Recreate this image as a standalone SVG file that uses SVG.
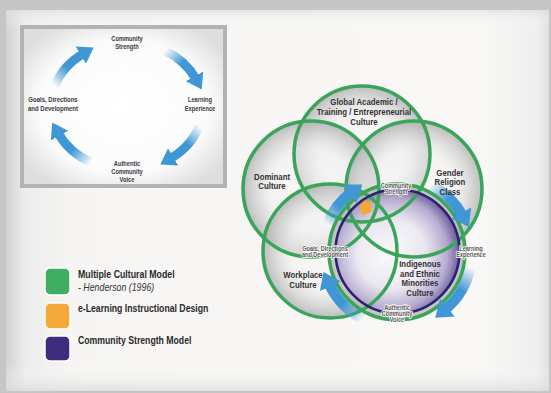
<svg xmlns="http://www.w3.org/2000/svg" width="551" height="393" viewBox="0 0 551 393">
<defs>
<style>
.lbl{font-family:"Liberation Sans",Arial,sans-serif;font-weight:bold;fill:#333;text-anchor:middle}
.big{font-size:9.2px}
.ins{font-size:7px;fill:#3a3a3a}
.sm{font-size:6.3px;fill:#555;stroke:#fff;stroke-width:1.6px;paint-order:stroke;stroke-linejoin:round}
.leg{font-family:"Liberation Sans",Arial,sans-serif;font-weight:bold;font-size:10px;fill:#2a2a2a}
.legi{font-family:"Liberation Sans",Arial,sans-serif;font-style:italic;font-size:10px;fill:#333}
.ring{fill:none;stroke:#3aa55a;stroke-width:3.5}
.cf{fill:url(#cfill)}
.arr{fill:none;stroke-width:9}
.arrm{fill:none;stroke-width:10.5}
</style>
<linearGradient id="panel" x1="0" y1="0" x2="1" y2="0">
<stop offset="0" stop-color="#d2d2d2"/>
<stop offset="0.035" stop-color="#ececec"/>
<stop offset="0.12" stop-color="#f6f5f3"/>
<stop offset="0.88" stop-color="#f9f8f6"/>
<stop offset="0.98" stop-color="#eeeeee"/>
<stop offset="1" stop-color="#dedede"/>
</linearGradient>
<linearGradient id="panelv" x1="0" y1="0" x2="0" y2="1">
<stop offset="0" stop-color="#dcdcdc" stop-opacity="0.6"/>
<stop offset="0.05" stop-color="#ffffff" stop-opacity="0"/>
<stop offset="0.93" stop-color="#ffffff" stop-opacity="0"/>
<stop offset="1" stop-color="#d8d8d8" stop-opacity="0.7"/>
</linearGradient>
<radialGradient id="inset" cx="0.5" cy="0.5" r="0.6">
<stop offset="0" stop-color="#ffffff"/>
<stop offset="0.7" stop-color="#fbfbfb"/>
<stop offset="1" stop-color="#dedede"/>
</radialGradient>
<radialGradient id="cfill" cx="0.5" cy="0.5" r="0.5">
<stop offset="0" stop-color="#ffffff" stop-opacity="0.3"/>
<stop offset="0.6" stop-color="#eeeeee" stop-opacity="0.5"/>
<stop offset="1" stop-color="#adadad" stop-opacity="0.78"/>
</radialGradient>
<radialGradient id="pfill" cx="0.45" cy="0.52" r="0.55">
<stop offset="0" stop-color="#ffffff" stop-opacity="0.85"/>
<stop offset="0.5" stop-color="#ebe8f2" stop-opacity="0.85"/>
<stop offset="0.82" stop-color="#b0a5cd" stop-opacity="0.9"/>
<stop offset="1" stop-color="#65579a" stop-opacity="0.95"/>
</radialGradient>
<marker id="head" markerUnits="userSpaceOnUse" markerWidth="15" markerHeight="20" viewBox="0 0 15 20" refX="3" refY="10" orient="auto">
<path d="M0,0 L15,10 L0,20 Z" fill="#3f98d5"/>
</marker>
<marker id="headm" markerUnits="userSpaceOnUse" markerWidth="16" markerHeight="23" viewBox="0 0 16 23" refX="3" refY="11.5" orient="auto">
<path d="M0,0 L16,11.5 L0,23 Z" fill="#3f98d5"/>
</marker>
<linearGradient id="g1" gradientUnits="userSpaceOnUse" x1="165" y1="50.6" x2="195.9" y2="79"><stop offset="0" stop-color="#3f98d5" stop-opacity="0"/><stop offset="0.5" stop-color="#3f98d5"/></linearGradient>
<linearGradient id="g2" gradientUnits="userSpaceOnUse" x1="199.3" y1="125.8" x2="170.6" y2="158.4"><stop offset="0" stop-color="#3f98d5" stop-opacity="0"/><stop offset="0.5" stop-color="#3f98d5"/></linearGradient>
<linearGradient id="g3" gradientUnits="userSpaceOnUse" x1="91.3" y1="162.5" x2="58.1" y2="133"><stop offset="0" stop-color="#3f98d5" stop-opacity="0"/><stop offset="0.5" stop-color="#3f98d5"/></linearGradient>
<linearGradient id="g4" gradientUnits="userSpaceOnUse" x1="54.7" y1="86.2" x2="83.4" y2="53.6"><stop offset="0" stop-color="#3f98d5" stop-opacity="0"/><stop offset="0.5" stop-color="#3f98d5"/></linearGradient>
<linearGradient id="m1" gradientUnits="userSpaceOnUse" x1="327" y1="224" x2="351.9" y2="192.1"><stop offset="0" stop-color="#3f98d5" stop-opacity="0"/><stop offset="0.5" stop-color="#3f98d5"/></linearGradient>
<linearGradient id="m2" gradientUnits="userSpaceOnUse" x1="431" y1="185" x2="462.6" y2="215.6"><stop offset="0" stop-color="#3f98d5" stop-opacity="0"/><stop offset="0.5" stop-color="#3f98d5"/></linearGradient>
<linearGradient id="m3" gradientUnits="userSpaceOnUse" x1="470.5" y1="267" x2="445.2" y2="309.5"><stop offset="0" stop-color="#3f98d5" stop-opacity="0"/><stop offset="0.5" stop-color="#3f98d5"/></linearGradient>
<linearGradient id="m4" gradientUnits="userSpaceOnUse" x1="363" y1="319" x2="329" y2="283.7"><stop offset="0" stop-color="#3f98d5" stop-opacity="0"/><stop offset="0.5" stop-color="#3f98d5"/></linearGradient>
</defs>

<!-- background frame -->
<rect x="0" y="0" width="551" height="393" fill="#c6c6c6"/>
<rect x="6" y="10" width="543" height="381" fill="url(#panel)"/>
<rect x="6" y="10" width="543" height="381" fill="url(#panelv)"/>

<!-- inset cycle -->
<g id="inset">
<rect x="22" y="27" width="203" height="159" fill="url(#inset)" stroke="#b3b3b3" stroke-width="4"/>
<g id="inset-arrows">
<path class="arr" d="M165,50.6 A76,64 0 0 1 195.9,79" stroke="url(#g1)" marker-end="url(#head)"/>
<path class="arr" d="M199.3,125.8 A76,64 0 0 1 170.6,158.4" stroke="url(#g2)" marker-end="url(#head)"/>
<path class="arr" d="M91.3,162.5 A76,64 0 0 1 58.1,133" stroke="url(#g3)" marker-end="url(#head)"/>
<path class="arr" d="M54.7,86.2 A76,64 0 0 1 83.4,53.6" stroke="url(#g4)" marker-end="url(#head)"/>
</g>
<g id="inset-cs" transform="translate(127,0) scale(0.82,1)"><text class="lbl ins" x="0" y="41">Community</text><text class="lbl ins" x="0" y="49">Strength</text></g>
<g id="inset-le" transform="translate(200,0) scale(0.82,1)"><text class="lbl ins" x="0" y="102.5">Learning</text><text class="lbl ins" x="0" y="111">Experience</text></g>
<g id="inset-acv" transform="translate(127,0) scale(0.82,1)"><text class="lbl ins" x="0" y="166">Authentic</text><text class="lbl ins" x="0" y="174">Community</text><text class="lbl ins" x="0" y="182">Voice</text></g>
<g id="inset-gdd" transform="translate(53,0) scale(0.86,1)"><text class="lbl ins" x="0" y="102.5">Goals, Directions</text><text class="lbl ins" x="0" y="111">and Development</text></g>
</g>

<!-- venn circles -->
<g id="venn">
<g id="fills">
<circle class="cf" cx="362" cy="154" r="68"/>
<circle class="cf" cx="311" cy="189" r="68"/>
<circle class="cf" cx="414" cy="189" r="68"/>
<circle class="cf" cx="330" cy="251" r="67"/>
<circle class="cf" cx="397" cy="252" r="68"/>
</g>
<circle id="csm-fill" cx="397.5" cy="251.5" r="62" fill="url(#pfill)"/>
<g id="global"><circle class="ring" cx="362" cy="154" r="68"/></g>
<g id="dominant"><circle class="ring" cx="311" cy="189" r="68"/></g>
<g id="gender"><circle class="ring" cx="414" cy="189" r="68"/></g>
<g id="workplace"><circle class="ring" cx="330" cy="251" r="67"/></g>
<g id="indigenous"><circle class="ring" cx="397" cy="252" r="68"/></g>
<g id="csm"><circle cx="397.5" cy="251.5" r="62" fill="none" stroke="#2b2270" stroke-width="2.6"/></g>
<g id="elearning"><path d="M359.3,207.3 L364,200.8 L371,202 L371.5,211.5 L362.7,215.5 Z" fill="#f5a531"/></g>
</g>

<!-- cycle arrows -->
<g id="connectors">
<path class="arrm" d="M327,224 A75,75 0 0 1 351.9,192.1" stroke="url(#m1)" marker-end="url(#headm)"/>
<path class="arrm" d="M431,185 A75,75 0 0 1 462.6,215.6" stroke="url(#m2)" marker-end="url(#headm)"/>
<path class="arrm" d="M470.5,267 A75,75 0 0 1 445.2,309.5" stroke="url(#m3)" marker-end="url(#headm)"/>
<path class="arrm" d="M363,319 A75,75 0 0 1 329,283.7" stroke="url(#m4)" marker-end="url(#headm)"/>
</g>

<!-- venn labels -->
<g id="lbl-global" transform="translate(364,0) scale(0.85,1)"><text class="lbl big" x="0" y="105.5">Global Academic /</text><text class="lbl big" x="0" y="115.5">Training / Entrepreneurial</text><text class="lbl big" x="0" y="125">Culture</text></g>
<g id="lbl-dominant" transform="translate(272,0) scale(0.85,1)"><text class="lbl big" x="0" y="180">Dominant</text><text class="lbl big" x="0" y="189.5">Culture</text></g>
<g id="lbl-gender" transform="translate(450,0) scale(0.85,1)"><text class="lbl big" x="0" y="176">Gender</text><text class="lbl big" x="0" y="185.5">Religion</text><text class="lbl big" x="0" y="195">Class</text></g>
<g id="lbl-workplace" transform="translate(303,0) scale(0.85,1)"><text class="lbl big" x="0" y="278.5">Workplace</text><text class="lbl big" x="0" y="288">Culture</text></g>
<g id="lbl-indigenous" transform="translate(420,0) scale(0.85,1)"><text class="lbl big" x="0" y="267.5">Indigenous</text><text class="lbl big" x="0" y="277">and Ethnic</text><text class="lbl big" x="0" y="286.5">Minorities</text><text class="lbl big" x="0" y="296">Culture</text></g>
<g id="lbl-cs" transform="translate(396,0) scale(0.88,1)"><text class="lbl sm" x="0" y="188.5">Community</text><text class="lbl sm" x="0" y="194.5">Strength</text></g>
<g id="lbl-gdd" transform="translate(325,0) scale(0.88,1)"><text class="lbl sm" x="0" y="251.5">Goals, Directions</text><text class="lbl sm" x="0" y="257.5">and Development</text></g>
<g id="lbl-le" transform="translate(471,0) scale(0.88,1)"><text class="lbl sm" x="0" y="251.5">Learning</text><text class="lbl sm" x="0" y="257.5">Experience</text></g>
<g id="lbl-acv" transform="translate(397,0) scale(0.88,1)"><text class="lbl sm" x="0" y="310">Authentic</text><text class="lbl sm" x="0" y="316">Community</text><text class="lbl sm" x="0" y="322">Voice</text></g>

<!-- legend -->
<g id="legend">
<g id="leg-mcm">
<rect x="45" y="268" width="25" height="27" rx="5" fill="#3fae63" stroke="#fff" stroke-width="1.5"/>
<g transform="translate(78,0) scale(0.88,1)"><text class="leg" x="0" y="278">Multiple Cultural Model</text><text class="legi" x="0" y="291.5">- Henderson (1996)</text></g>
</g>
<g id="leg-eid">
<rect x="45" y="303" width="25" height="26" rx="5" fill="#f6a93b" stroke="#fff" stroke-width="1.5"/>
<g transform="translate(78,0) scale(0.87,1)"><text class="leg" x="0" y="312">e-Learning Instructional Design</text></g>
</g>
<g id="leg-csm">
<rect x="45" y="336" width="25" height="25" rx="5" fill="#3e2c7f" stroke="#fff" stroke-width="1.5"/>
<g transform="translate(78,0) scale(0.87,1)"><text class="leg" x="0" y="344.5">Community Strength Model</text></g>
</g>
</g>
</svg>
